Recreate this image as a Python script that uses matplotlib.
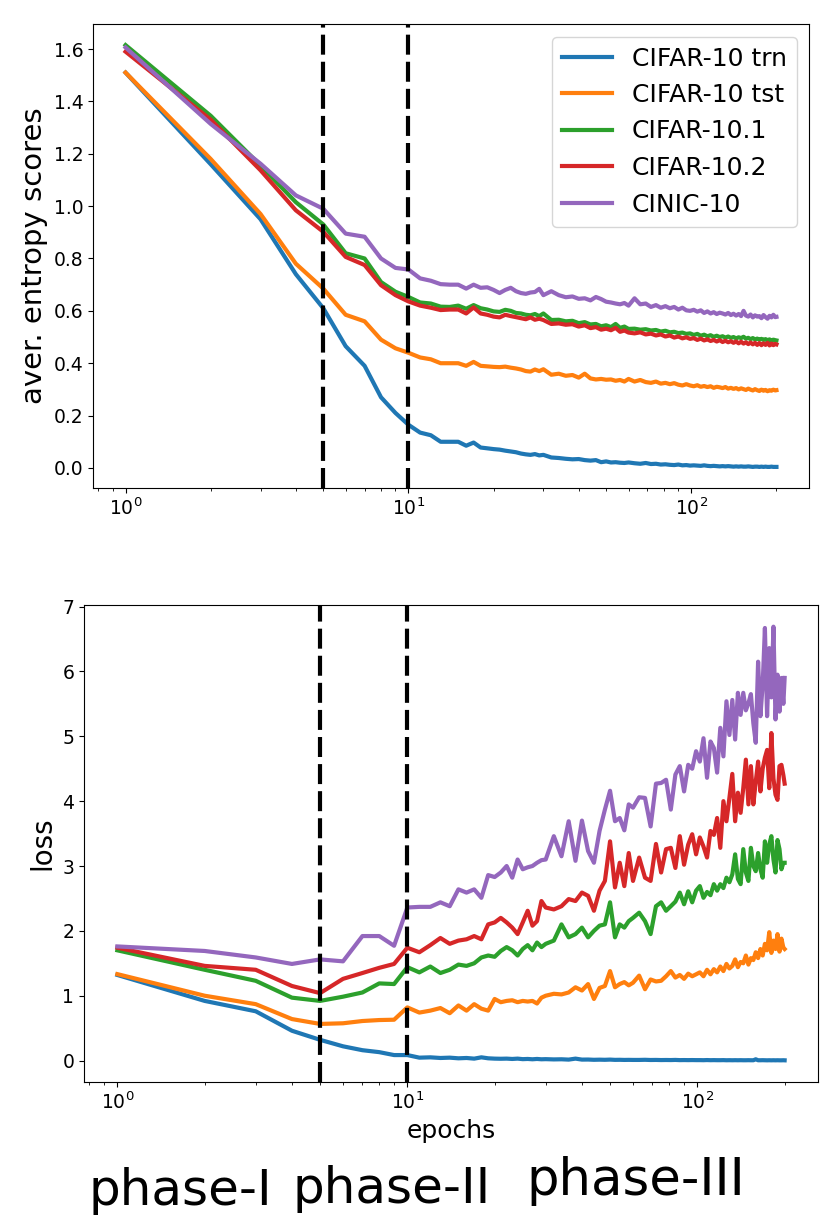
import matplotlib
matplotlib.use("Agg")
import matplotlib.pyplot as plt

epochs = list(range(1, 31)) + list(range(32, 61, 2)) + list(range(63, 100, 3)) + list(range(102, 199, 3)) + [200]

names = ["CIFAR-10 trn", "CIFAR-10 tst", "CIFAR-10.1", "CIFAR-10.2", "CINIC-10"]
colors = ["tab:blue", "tab:orange", "tab:green", "tab:red", "tab:purple"]

# average entropy scores
ent_trn = [1.51, 1.16, 0.95, 0.74, 0.61, 0.465, 0.39, 0.27, 0.21, 0.165, 0.135, 0.125, 0.10, 0.10, 0.10,
           0.085, 0.097, 0.078, 0.075, 0.072, 0.07, 0.066, 0.063, 0.06, 0.055, 0.052, 0.05, 0.053, 0.048, 0.05,
           0.04, 0.038, 0.035, 0.033, 0.034, 0.03, 0.028, 0.03, 0.022, 0.025, 0.021, 0.022, 0.02, 0.019, 0.021,
           0.018, 0.016, 0.019, 0.015, 0.016, 0.013, 0.014, 0.012, 0.011, 0.013, 0.01, 0.011, 0.009,
           0.01, 0.009, 0.008, 0.01, 0.008, 0.007, 0.008, 0.007, 0.006, 0.007, 0.006, 0.007, 0.006, 0.005,
           0.006, 0.005, 0.006, 0.005, 0.005, 0.006, 0.005, 0.004, 0.005, 0.005, 0.004, 0.005, 0.004, 0.005,
           0.004, 0.004, 0.005, 0.004, 0.004, 0.004]
ent_tst = [1.51, 1.18, 0.97, 0.78, 0.685, 0.585, 0.56, 0.49, 0.457, 0.44, 0.422, 0.415, 0.40, 0.40, 0.40,
           0.39, 0.405, 0.39, 0.388, 0.386, 0.385, 0.387, 0.383, 0.38, 0.376, 0.37, 0.368, 0.376, 0.37, 0.377,
           0.356, 0.36, 0.352, 0.355, 0.345, 0.36, 0.342, 0.338, 0.34, 0.337, 0.338, 0.333, 0.336, 0.33, 0.34,
           0.33, 0.336, 0.328, 0.325, 0.33, 0.322, 0.325, 0.32, 0.324, 0.318, 0.315, 0.32, 0.315,
           0.312, 0.316, 0.31, 0.313, 0.309, 0.312, 0.306, 0.31, 0.308, 0.305, 0.309, 0.303, 0.306, 0.302,
           0.305, 0.3, 0.304, 0.301, 0.298, 0.303, 0.299, 0.296, 0.301, 0.297, 0.294, 0.299, 0.295, 0.298,
           0.293, 0.297, 0.295, 0.299, 0.296, 0.297]
ent_c101 = [1.615, 1.345, 1.155, 1.015, 0.93, 0.82, 0.80, 0.71, 0.673, 0.653, 0.632, 0.628, 0.616, 0.615, 0.62,
            0.608, 0.622, 0.61, 0.605, 0.598, 0.596, 0.604, 0.6, 0.592, 0.59, 0.585, 0.583, 0.588, 0.58, 0.59,
            0.565, 0.566, 0.56, 0.562, 0.553, 0.557, 0.548, 0.55, 0.541, 0.545, 0.538, 0.55, 0.535, 0.54, 0.531,
            0.532, 0.528, 0.53, 0.525, 0.527, 0.521, 0.524, 0.518, 0.52, 0.515, 0.517, 0.512, 0.514,
            0.508, 0.512, 0.505, 0.509, 0.503, 0.507, 0.501, 0.505, 0.5, 0.503, 0.498, 0.502, 0.497, 0.5,
            0.495, 0.499, 0.496, 0.501, 0.494, 0.497, 0.492, 0.496, 0.491, 0.494, 0.49, 0.493, 0.489, 0.492,
            0.488, 0.491, 0.487, 0.49, 0.488, 0.487]
ent_c102 = [1.59, 1.33, 1.137, 0.984, 0.902, 0.806, 0.775, 0.698, 0.66, 0.636, 0.62, 0.612, 0.603, 0.605, 0.605,
            0.59, 0.613, 0.59, 0.585, 0.578, 0.575, 0.585, 0.58, 0.576, 0.572, 0.568, 0.575, 0.566, 0.57, 0.565,
            0.55, 0.552, 0.547, 0.549, 0.54, 0.545, 0.534, 0.538, 0.528, 0.532, 0.526, 0.535, 0.52, 0.525, 0.517,
            0.514, 0.518, 0.51, 0.513, 0.506, 0.51, 0.502, 0.506, 0.498, 0.502, 0.495, 0.499, 0.493,
            0.496, 0.489, 0.494, 0.487, 0.491, 0.485, 0.489, 0.483, 0.488, 0.481, 0.486, 0.48, 0.484, 0.478,
            0.483, 0.476, 0.482, 0.475, 0.48, 0.473, 0.479, 0.472, 0.478, 0.47, 0.477, 0.469, 0.476, 0.47,
            0.478, 0.468, 0.475, 0.469, 0.474, 0.472]
ent_cinic = [1.606, 1.314, 1.162, 1.041, 0.99, 0.895, 0.883, 0.80, 0.764, 0.758, 0.724, 0.715, 0.702, 0.70, 0.70,
             0.685, 0.70, 0.688, 0.69, 0.68, 0.668, 0.68, 0.688, 0.675, 0.668, 0.665, 0.67, 0.672, 0.684, 0.66,
             0.675, 0.66, 0.652, 0.655, 0.646, 0.648, 0.64, 0.653, 0.645, 0.635, 0.632, 0.628, 0.625, 0.63, 0.62,
             0.648, 0.625, 0.628, 0.615, 0.622, 0.612, 0.618, 0.61, 0.615, 0.605, 0.612, 0.602, 0.6,
             0.604, 0.597, 0.602, 0.592, 0.598, 0.59, 0.595, 0.588, 0.593, 0.59, 0.586, 0.592, 0.584, 0.589,
             0.582, 0.588, 0.58, 0.6, 0.582, 0.578, 0.586, 0.575, 0.583, 0.578, 0.58, 0.572, 0.584, 0.576,
             0.57, 0.581, 0.575, 0.585, 0.576, 0.577]

# loss
loss_trn = [1.32, 0.92, 0.76, 0.46, 0.32, 0.22, 0.16, 0.13, 0.085, 0.085, 0.045, 0.05, 0.04, 0.045, 0.035,
            0.04, 0.03, 0.05, 0.035, 0.03, 0.028, 0.03, 0.025, 0.03, 0.022, 0.025, 0.02, 0.025, 0.02, 0.022,
            0.018, 0.02, 0.015, 0.03, 0.015, 0.016, 0.012, 0.014, 0.012, 0.015, 0.011, 0.012, 0.01, 0.011, 0.01,
            0.01, 0.012, 0.009, 0.01, 0.008, 0.009, 0.008, 0.01, 0.007, 0.008, 0.007, 0.008, 0.007,
            0.007, 0.006, 0.008, 0.006, 0.007, 0.006, 0.006, 0.007, 0.005, 0.006, 0.005, 0.006, 0.005, 0.006,
            0.005, 0.005, 0.006, 0.005, 0.005, 0.02, 0.005, 0.005, 0.006, 0.005, 0.004, 0.005, 0.004, 0.005,
            0.004, 0.005, 0.004, 0.004, 0.005, 0.004]
loss_tst = [1.333, 1.0, 0.87, 0.64, 0.565, 0.575, 0.61, 0.625, 0.63, 0.82, 0.74, 0.77, 0.81, 0.73, 0.85,
            0.77, 0.87, 0.80, 0.77, 0.95, 0.90, 0.92, 0.93, 0.90, 0.92, 0.91, 0.92, 0.88, 0.97, 1.0,
            1.03, 1.02, 1.05, 1.13, 1.08, 1.18, 0.95, 1.12, 1.15, 1.38, 1.13, 1.18, 1.21, 1.16, 1.20,
            1.31, 1.10, 1.25, 1.22, 1.23, 1.30, 1.38, 1.28, 1.32, 1.26, 1.34, 1.30, 1.33,
            1.36, 1.30, 1.40, 1.33, 1.41, 1.36, 1.45, 1.38, 1.49, 1.42, 1.46, 1.56, 1.44, 1.52,
            1.50, 1.62, 1.48, 1.58, 1.55, 1.67, 1.58, 1.72, 1.62, 1.80, 1.70, 1.98, 1.66, 1.85,
            1.72, 1.95, 1.68, 1.88, 1.74, 1.72]
loss_c101 = [1.70, 1.40, 1.23, 0.97, 0.92, 0.985, 1.05, 1.19, 1.18, 1.44, 1.36, 1.45, 1.35, 1.40, 1.48,
             1.46, 1.50, 1.59, 1.62, 1.60, 1.69, 1.75, 1.70, 1.62, 1.72, 1.78, 1.70, 1.82, 1.75, 1.80,
             1.85, 2.10, 1.90, 1.95, 2.05, 1.90, 2.00, 2.08, 2.10, 2.44, 1.90, 2.10, 2.05, 2.15, 2.20,
             2.28, 2.15, 1.95, 2.38, 2.44, 2.31, 2.38, 2.45, 2.59, 2.41, 2.61, 2.44, 2.62,
             2.69, 2.51, 2.60, 2.55, 2.72, 2.62, 2.72, 2.66, 2.82, 2.75, 2.87, 3.18, 2.80, 2.72,
             3.26, 2.90, 2.77, 3.28, 3.00, 2.92, 3.20, 2.95, 2.82, 3.38, 3.05, 3.33, 3.46, 3.10,
             2.90, 3.40, 3.26, 2.95, 3.05, 3.05]
loss_c102 = [1.74, 1.46, 1.40, 1.15, 1.04, 1.26, 1.35, 1.43, 1.49, 1.74, 1.67, 1.78, 1.89, 1.80, 1.85,
             1.87, 1.92, 1.87, 2.10, 2.13, 2.20, 2.13, 2.05, 1.95, 2.13, 2.31, 2.08, 2.15, 2.46, 2.36,
             2.33, 2.38, 2.49, 2.46, 2.59, 2.54, 2.31, 2.62, 2.77, 3.38, 2.67, 3.05, 2.69, 3.20, 2.77,
             3.13, 2.82, 2.77, 3.34, 2.90, 3.26, 3.28, 2.97, 3.46, 3.02, 3.33, 3.49, 3.18,
             3.44, 3.30, 3.13, 3.54, 3.48, 3.74, 3.28, 4.00, 3.69, 4.05, 4.42, 3.69, 4.13, 3.82,
             4.20, 4.64, 3.95, 4.54, 3.95, 4.30, 4.61, 4.15, 4.50, 4.67, 4.79, 4.20, 5.05, 4.35,
             4.10, 4.02, 4.54, 4.56, 4.40, 4.27]
loss_cinic = [1.76, 1.69, 1.59, 1.49, 1.56, 1.53, 1.92, 1.92, 1.77, 2.36, 2.37, 2.37, 2.44, 2.38, 2.64,
              2.59, 2.64, 2.51, 2.86, 2.83, 2.90, 3.00, 2.82, 3.10, 2.95, 2.98, 3.00, 3.05, 3.09, 3.10,
              3.46, 3.15, 3.69, 3.08, 3.70, 3.23, 3.05, 3.54, 3.87, 4.16, 3.69, 3.74, 3.55, 3.95, 3.90,
              4.06, 4.05, 3.61, 4.27, 4.28, 4.33, 3.87, 4.41, 4.54, 4.15, 4.56, 4.50, 4.77,
              4.61, 4.97, 4.36, 4.92, 4.82, 4.44, 5.13, 4.69, 5.54, 5.02, 5.56, 4.95, 5.67, 5.33,
              5.67, 5.40, 5.51, 5.65, 5.20, 4.90, 6.15, 5.31, 5.80, 6.67, 5.31, 6.36, 5.60, 6.69,
              5.26, 5.95, 5.38, 5.90, 5.50, 5.90]

entropy = [ent_trn, ent_tst, ent_c101, ent_c102, ent_cinic]
losses = [loss_trn, loss_tst, loss_c101, loss_c102, loss_cinic]

phase_edges = [5, 10]
phase_names = ["phase-I", "phase-II", "phase-III"]

W, H = 838, 1223
fig = plt.figure(figsize=(W / 100, H / 100), dpi=100)

ax1 = fig.add_axes([93 / W, 1 - 488 / H, 716 / W, 464 / H])
ax2 = fig.add_axes([84 / W, 1 - 1082 / H, 734 / W, 477 / H])

dash = (0, (4.8, 1.7))

for vals, name, c in zip(entropy, names, colors):
    ax1.plot(epochs, vals, color=c, lw=3, label=name)
for e in phase_edges:
    ax1.axvline(e, color="k", ls=dash, lw=3)
ax1.set_xscale("log")
ax1.set_ylabel("aver. entropy scores", fontsize=21)
ax1.tick_params(labelsize=13.5)
ax1.legend(loc="upper right", fontsize=18)

for vals, name, c in zip(losses, names, colors):
    ax2.plot(epochs, vals, color=c, lw=3, label=name)
for e in phase_edges:
    ax2.axvline(e, color="k", ls=dash, lw=3)
ax2.set_xscale("log")
ax2.set_ylabel("loss", fontsize=20)
ax2.set_xlabel("epochs", fontsize=18)
ax2.tick_params(labelsize=13.5)

# phase labels under the lower plot
fig.text(88 / W, 1 - 1205 / H, phase_names[0], fontsize=36, va="baseline")
fig.text(292 / W, 1 - 1203 / H, phase_names[1], fontsize=36, va="baseline")
fig.text(526 / W, 1 - 1195 / H, phase_names[2], fontsize=37, va="baseline")

fig.savefig("out.png", dpi=100)
